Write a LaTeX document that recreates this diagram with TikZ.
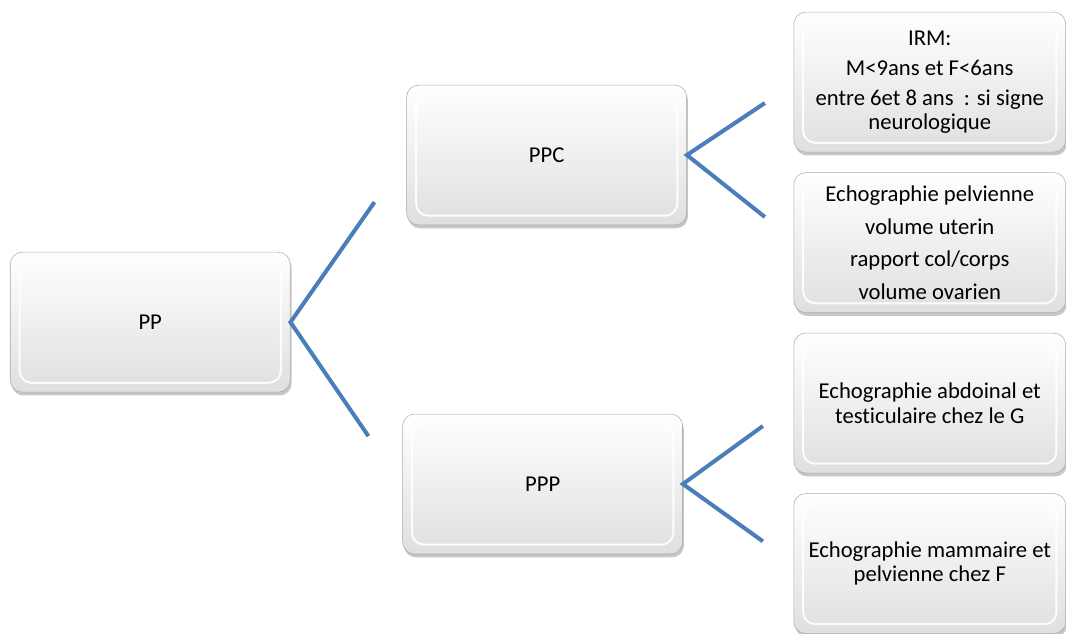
\documentclass[tikz,border=0pt]{standalone}
\usepackage{fontspec}
\setmainfont[Ligatures=NoCommon]{Carlito}
\usetikzlibrary{positioning, calc, shadows}
\definecolor{linkblue}{RGB}{74,126,187}

\begin{document}
\begin{tikzpicture}[
    node distance=15pt,
    box/.style={rectangle, draw=gray!65, top color=white, bottom color=gray!25, rounded corners=9pt, minimum width=210pt, minimum height=105pt, align=center, font=\fontsize{17}{18.5}\selectfont, drop shadow={shadow xshift=1pt, shadow yshift=-2.5pt, opacity=0.45},
        path picture={\draw[white, line width=1.5pt, opacity=0.9] ($(path picture bounding box.south west)+(7pt,7pt)$) rectangle ($(path picture bounding box.north east)+(-7pt,-7pt)$);}},
    sidebox/.style={box, minimum width=204pt},
    link/.style={draw=linkblue, line width=3pt}
]

\node[box] (pp) {PP};
\node[box, above right=20pt and 87pt of pp] (ppc) {PPC};
\node[box, below right=16pt and 84pt of pp] (ppp) {PPP};

\node[sidebox, above right=2pt and 80pt of ppc.east] (irm) {IRM:\\[4pt] M<9ans et F<6ans\\[4pt] entre 6et 8 ans\ \ : si signe\\ neurologique};
\node[sidebox, below=of irm] (echopel) {Echographie pelvienne\\[6pt] volume uterin\\[6pt] rapport col/corps\\[6pt] volume ovarien};
\node[sidebox, below=of echopel] (echoabd) {Echographie abdoinal et\\ testiculaire chez le G};
\node[sidebox, below=of echoabd] (echomam) {Echographie mammaire et\\ pelvienne chez F};

\coordinate[above right=90pt and 63pt of pp.east] (ppup);
\coordinate[below right=85.5pt and 58.5pt of pp.east] (ppdown);
\coordinate[above right=39pt and 58.5pt of ppc.east] (ppcup);
\coordinate[below right=46.5pt and 58.5pt of ppc.east] (ppcdown);
\coordinate[above right=43.5pt and 60pt of ppp.east] (pppup);
\coordinate[below right=43pt and 60pt of ppp.east] (pppdown);

\draw[link] (ppup) -- (pp.east) -- (ppdown);
\draw[link] (ppcup) -- (ppc.east) -- (ppcdown);
\draw[link] (pppup) -- (ppp.east) -- (pppdown);

\path[use as bounding box] ($(pp.north west)+(-7.5pt,189pt)$) rectangle ++(799.5pt,-474.75pt);

\end{tikzpicture}
\end{document}
